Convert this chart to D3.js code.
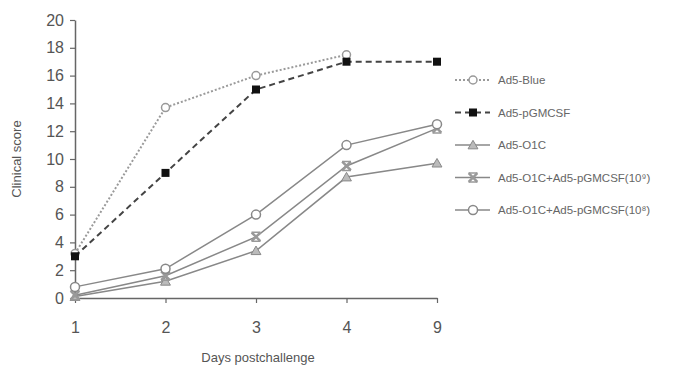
<!DOCTYPE html>
<html>
<head>
<meta charset="utf-8">
<script src="https://cdn.jsdelivr.net/npm/d3@7"></script>
<style>
  body { margin: 0; background: #fff; }
  svg { display: block; font-family: "Liberation Sans", Arial, sans-serif; }
</style>
</head>
<body>
<svg id="chart" width="674" height="368"></svg>
<script>
// day categories on the x axis (ordinal)
const DAYS = ['1', '2', '3', '4', '9'];
const Y_TICKS = [0, 2, 4, 6, 8, 10, 12, 14, 16, 18, 20];

const BLUE      = [3.2, 13.7, 16.0, 17.5];
const PGMCSF    = [3.0, 9.0, 15.0, 17.0, 17.0];
const O1C       = [0.1, 1.2, 3.4, 8.7, 9.7];
const COMBO_HI  = [0.2, 1.6, 4.4, 9.5, 12.2];
const COMBO_LO  = [0.8, 2.1, 6.0, 11.0, 12.5];

const SERIES = [
    { name: 'Ad5-Blue',   values: BLUE,     stroke: '#9a9a9a', dash: '2 2', marker: 'diamond' },
    { name: 'Ad5-pGMCSF', values: PGMCSF,   stroke: '#444',    dash: '6 4', marker: 'square' },
    { name: 'Ad5-O1C',    values: O1C,      stroke: '#888',    dash: null,  marker: 'triangle' },
    { name: 'Ad5-O1C+Ad5-pGMCSF(10⁹)', values: COMBO_HI, stroke: '#888', dash: null, marker: 'x' },
    { name: 'Ad5-O1C+Ad5-pGMCSF(10⁸)', values: COMBO_LO, stroke: '#888', dash: null, marker: 'circle' },
];

const svg = d3.select('#chart');
const x = d3.scalePoint().domain(DAYS).range([75, 437]).padding(0);
const y = d3.scaleLinear().domain([0, 20]).range([298, 20]);

// ── Axes ────────────────────────────────────────────────────────────────────
const yAxis = svg.append('g').attr('transform', 'translate(75,0)')
    .call(d3.axisLeft(y).tickValues(Y_TICKS).tickSize(5).tickSizeOuter(0).tickPadding(6));
const xAxis = svg.append('g').attr('transform', 'translate(0,298)')
    .call(d3.axisBottom(x).tickSize(5).tickSizeOuter(0).tickPadding(19));
[yAxis, xAxis].forEach(a => {
    a.select('.domain').attr('stroke', '#666').attr('stroke-width', 1.5);
    a.selectAll('.tick line').attr('stroke', '#666').attr('stroke-width', 1.2);
    a.selectAll('.tick text').attr('fill', '#555').attr('font-size', '16px')
        .attr('font-family', '"Liberation Sans Narrow", "Liberation Sans", Arial, sans-serif');
});

svg.append('text').attr('x', 258).attr('y', 362).attr('text-anchor', 'middle')
    .attr('fill', '#555').attr('font-size', '13px').text('Days postchallenge');
svg.append('text').attr('transform', 'translate(21,159) rotate(-90)').attr('text-anchor', 'middle')
    .attr('fill', '#555').attr('font-size', '13px').text('Clinical score');

// ── Markers ─────────────────────────────────────────────────────────────────
function drawMarker(g, type, cx, cy) {
    if (type === 'diamond') {
        g.append('circle').attr('cx', cx).attr('cy', cy).attr('r', 4)
            .attr('fill', '#fff').attr('stroke', '#999').attr('stroke-width', 1.5);
    } else if (type === 'square') {
        g.append('rect').attr('x', cx - 4).attr('y', cy - 4).attr('width', 8).attr('height', 8)
            .attr('fill', '#111');
    } else if (type === 'triangle') {
        g.append('path').attr('d', d3.symbol(d3.symbolTriangle, 42)())
            .attr('transform', `translate(${cx},${cy + 1})`)
            .attr('fill', '#bbb').attr('stroke', '#888').attr('stroke-width', 1);
    } else if (type === 'x') {
        g.append('path').attr('d', d3.symbol(d3.symbolTimes, 50)())
            .attr('transform', `translate(${cx},${cy})`)
            .attr('fill', 'none').attr('stroke', '#999').attr('stroke-width', 2.5);
        g.append('path').attr('d', `M${cx - 4.5},${cy - 4.5}H${cx + 4.5}M${cx - 4.5},${cy + 4.5}H${cx + 4.5}`)
            .attr('stroke', '#999').attr('stroke-width', 1.5);
    } else if (type === 'circle') {
        g.append('circle').attr('cx', cx).attr('cy', cy).attr('r', 4.5)
            .attr('fill', '#fff').attr('stroke', '#888').attr('stroke-width', 1.5);
    }
}

const line = d3.line().x((d, i) => x(DAYS[i])).y(d => y(d));
// draw solid series first, dashed ones on top
[2, 3, 4, 0, 1].forEach(k => {
    const s = SERIES[k];
    const g = svg.append('g');
    g.append('path').attr('d', line(s.values)).attr('fill', 'none')
        .attr('stroke', s.stroke).attr('stroke-width', s.dash ? 2 : 1.5)
        .attr('stroke-dasharray', s.dash);
    s.values.forEach((v, i) => drawMarker(g, s.marker, x(DAYS[i]), y(v)));
});

// ── Legend ──────────────────────────────────────────────────────────────────
const leg = svg.append('g');
SERIES.forEach((s, i) => {
    const ly = 80 + i * 32.5;
    leg.append('line').attr('x1', 455).attr('x2', 490).attr('y1', ly).attr('y2', ly)
        .attr('stroke', s.stroke).attr('stroke-width', s.dash ? 2 : 1.5)
        .attr('stroke-dasharray', s.dash);
    drawMarker(leg, s.marker, 473, ly);
    leg.append('text').attr('x', 498).attr('y', ly).attr('dominant-baseline', 'central')
        .attr('fill', '#666').attr('font-size', '11.5px').text(s.name);
});
</script>
</body>
</html>
